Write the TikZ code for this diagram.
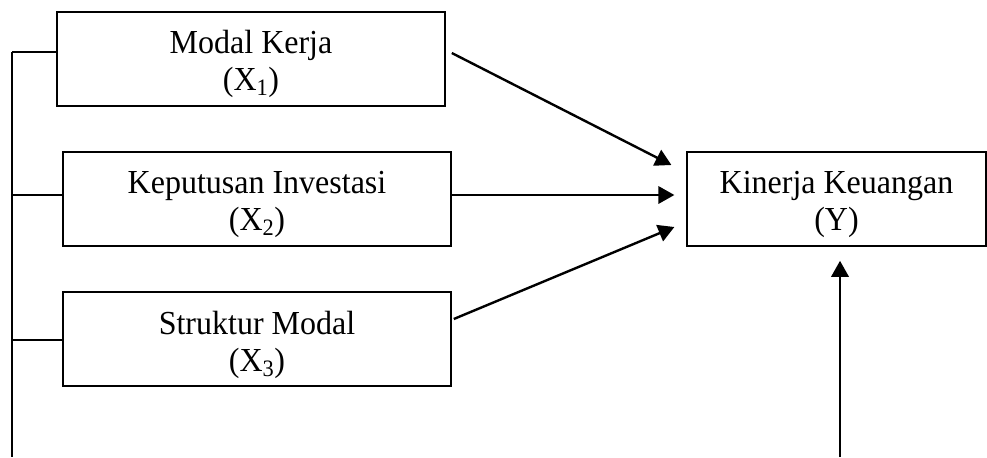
\documentclass[tikz,border=0pt]{standalone}
\usepackage{fontspec}
\usepackage{graphicx}
\setmainfont{Liberation Serif}
\usetikzlibrary{arrows.meta,calc}

% dua baris teks; argumen opsional menurunkan teks di dalam kotak
\newcommand{\teksvar}[3][4pt]{\raisebox{-#1}[\height][\depth]{\scalebox{1}[1.05]{\begin{tabular}{@{}c@{}}#2\\#3\end{tabular}}}}

\tikzset{
  var/.style={draw, line width=1.2pt, minimum width=291pt, minimum height=70.5pt,
    inner sep=0pt, font=\fontsize{24}{26.5}\selectfont},
  garis/.style={line width=1.3pt},
  panah/.style={line width=1.8pt, -{Triangle[length=12pt,width=13pt]}}
}

\begin{document}
\begin{tikzpicture}[x=0.75pt,y=-0.75pt]
            \useasboundingbox (0,0) rectangle (987,457);
            \node[var] (x1) at (251,59) {\teksvar{Modal Kerja}{(X\textsubscript{1})}};
            \node[var] (x2) at (257,199) {\teksvar{Keputusan Investasi}{(X\textsubscript{2})}};
            \node[var] (x3) at (257,339) {\teksvar[5pt]{Struktur Modal}{(X\textsubscript{3})}};
            \node[var, minimum width=224pt] (y) at (836.5,199) {\teksvar{Kinerja Keuangan}{(Y)}};
            % garis kiri
            \coordinate (bawah) at (12,457);
            \foreach \n/\t in {1/52,2/195,3/340}
                \coordinate (s\n) at (12,\t);
            \draw[garis] (s1) -- (bawah);
            \foreach \n in {1,2,3}
                \draw[garis] (s\n) -- (s\n -| x\n.west);
            % panah ke Y
            \draw[panah] ($(x1.east)+(6,-6)$) -- ($(y.west)+(-15,-34)$);
            \draw[panah] ($(x2.east)+(0,-4)$) -- ($(y.west)+(-12,-4)$);
            \draw[panah] ($(x3.east)+(2,-20)$) -- ($(y.west)+(-12,28)$);
            \coordinate (dasar) at (840,457);
            \draw[panah] (dasar) -- ($(dasar |- y.south)+(0,14)$);
        \end{tikzpicture}
\end{document}
